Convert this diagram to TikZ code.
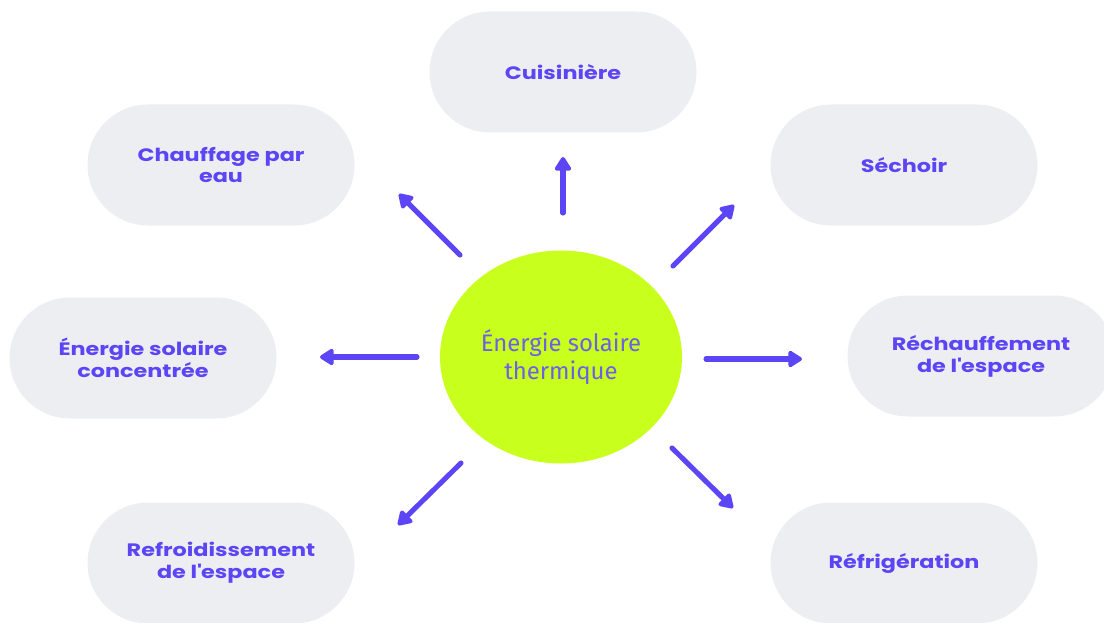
\documentclass[tikz,border=0pt]{standalone}
\usepackage{fontspec}
\setmainfont{Poppins}
\newfontfamily\pillfont[FakeStretch=1.24]{Poppins}
\newfontfamily\firafont{Fira Sans}
\usetikzlibrary{arrows.meta,shapes.geometric,shapes.misc}

\definecolor{violet}{HTML}{5B45F5}
\definecolor{pillgray}{HTML}{ECEEF1}
\definecolor{lime}{HTML}{C8FF1C}
\definecolor{softviolet}{HTML}{6E5FE6}

\begin{document}
\begin{tikzpicture}[x=0.025cm, y=0.025cm,
    pill/.style={rounded rectangle, fill=pillgray, minimum width=267*0.025cm,
        minimum height=121*0.025cm, inner sep=0pt, align=center,
        font=\pillfont\fontsize{12.8}{15.5}\selectfont\bfseries, text=violet},
    core/.style={ellipse, fill=lime, minimum width=242*0.025cm,
        minimum height=213*0.025cm, inner sep=0pt, align=center,
        font=\firafont\fontsize{17}{20}\selectfont, text=softviolet},
    arr/.style={-{Triangle[length=11pt, width=13pt, round]}, line width=3.6pt,
        violet, line cap=round}
]
\useasboundingbox (0,0) rectangle (1104,-623);
\clip (0,0) rectangle (1104,-623);

% centre
\node[core] (sol) at (561,-357) {Énergie solaire\\thermique};

% applications
\node[pill] (cuis)  at (563,-72)  {Cuisinière};
\node[pill] (chauf) at (221,-165) {Chauffage par\\eau};
\node[pill] (sech)  at (904,-165) {Séchoir};
\node[pill] (conc)  at (143,-358) {Énergie solaire\\concentrée};
\node[pill] (rech)  at (981,-356) {Réchauffement\\de l\textquotesingle espace};
\node[pill] (refr)  at (221,-563) {Refroidissement\\de l\textquotesingle espace};
\node[pill] (frig)  at (904,-563) {Réfrigération};

% arrow ends
\coordinate (sCuis)  at (563,-213); \coordinate (eCuis)  at (563,-157);
\coordinate (sChauf) at (460,-255); \coordinate (eChauf) at (399,-194);
\coordinate (sSech)  at (673,-266); \coordinate (eSech)  at (734,-205);
\coordinate (sConc)  at (417,-357); \coordinate (eConc)  at (320,-357);
\coordinate (sRech)  at (706,-359); \coordinate (eRech)  at (802,-359);
\coordinate (sRefr)  at (461,-463); \coordinate (eRefr)  at (398,-525);
\coordinate (sFrig)  at (672,-448); \coordinate (eFrig)  at (733,-508);

\foreach \n in {Cuis,Chauf,Sech,Conc,Rech,Refr,Frig}
    \draw[arr] (s\n) -- (e\n);
\end{tikzpicture}
\end{document}
